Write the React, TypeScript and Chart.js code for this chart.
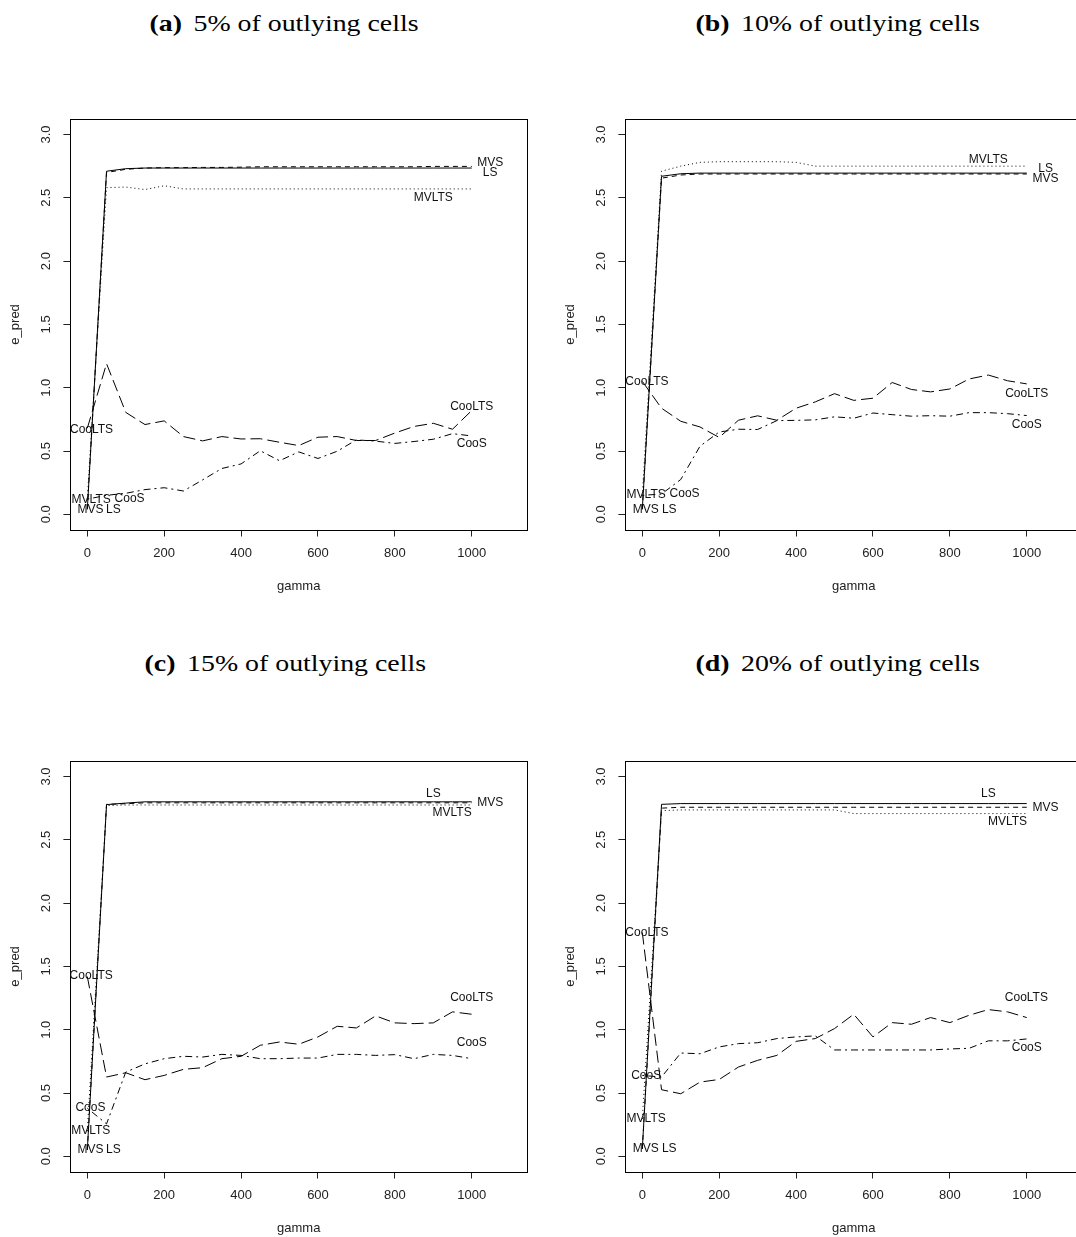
import React, { useEffect, useRef } from "react";
import { Chart, registerables } from "chart.js";

Chart.register(...registerables);

// ---------- data ----------
const GAMMA = [0, 50, 100, 150, 200, 250, 300, 350, 400, 450, 500, 550, 600, 650, 700, 750, 800, 850, 900, 950, 1000];
const X_TICKS = [0, 200, 400, 600, 800, 1000];
const Y_TICKS = [0, 0.5, 1, 1.5, 2, 2.5, 3];
const X_LIMITS = [-44, 1144];
const Y_LIMITS = [-0.12, 3.12];

// (a) 5%
const A_LS = [0.04, 2.71, 2.73, 2.735, 2.735, 2.735, 2.735, 2.735, 2.735, 2.735, 2.735, 2.735, 2.735, 2.735, 2.735, 2.735, 2.735, 2.735, 2.735, 2.735, 2.735];
const A_MVS = [0.04, 2.70, 2.725, 2.735, 2.738, 2.738, 2.74, 2.74, 2.742, 2.745, 2.745, 2.745, 2.745, 2.745, 2.745, 2.745, 2.745, 2.745, 2.748, 2.748, 2.748];
const A_MVLTS = [0.12, 2.58, 2.585, 2.565, 2.595, 2.57, 2.57, 2.57, 2.57, 2.57, 2.57, 2.57, 2.57, 2.57, 2.57, 2.57, 2.57, 2.57, 2.57, 2.57, 2.57];
const A_COOLTS = [0.68, 1.19, 0.805, 0.709, 0.738, 0.614, 0.58, 0.614, 0.595, 0.597, 0.569, 0.543, 0.609, 0.614, 0.583, 0.583, 0.642, 0.694, 0.719, 0.672, 0.82];
const A_COOS = [0.12, 0.15, 0.166, 0.195, 0.21, 0.184, 0.272, 0.362, 0.398, 0.502, 0.423, 0.493, 0.441, 0.498, 0.588, 0.578, 0.56, 0.575, 0.593, 0.637, 0.619];
const A_LABELS: [string, number, number][] = [
  ["MVS", 1048, 2.78], ["LS", 1048, 2.70], ["MVLTS", 900, 2.50], ["CooLTS", 1000, 0.853], ["CooS", 1000, 0.555],
  ["CooLTS", 11, 0.668], ["MVLTS", 10, 0.119], ["CooS", 110, 0.124], ["MVS", 8, 0.04], ["LS", 68, 0.04],
];

// (b) 10%
const B_LS = [0.04, 2.67, 2.69, 2.695, 2.695, 2.695, 2.695, 2.695, 2.695, 2.695, 2.695, 2.695, 2.695, 2.695, 2.695, 2.695, 2.695, 2.695, 2.695, 2.695, 2.695];
const B_MVS = [0.04, 2.655, 2.68, 2.688, 2.688, 2.688, 2.688, 2.688, 2.688, 2.688, 2.688, 2.688, 2.688, 2.688, 2.688, 2.688, 2.688, 2.688, 2.688, 2.688, 2.688];
const B_MVLTS = [0.15, 2.71, 2.75, 2.78, 2.785, 2.785, 2.785, 2.785, 2.78, 2.75, 2.75, 2.75, 2.75, 2.75, 2.75, 2.75, 2.75, 2.75, 2.75, 2.75, 2.75];
const B_COOLTS = [1.05, 0.838, 0.735, 0.69, 0.607, 0.743, 0.778, 0.743, 0.838, 0.888, 0.953, 0.9, 0.917, 1.041, 0.986, 0.967, 0.99, 1.069, 1.10, 1.055, 1.03];
const B_COOS = [0.15, 0.16, 0.275, 0.538, 0.65, 0.672, 0.67, 0.74, 0.742, 0.746, 0.77, 0.759, 0.8, 0.787, 0.775, 0.779, 0.775, 0.803, 0.803, 0.795, 0.78];
const B_LABELS: [string, number, number][] = [
  ["MVLTS", 900, 2.80], ["LS", 1049, 2.733], ["MVS", 1049, 2.649], ["CooLTS", 1000, 0.951], ["CooS", 1000, 0.708],
  ["CooLTS", 12, 1.046], ["MVLTS", 10, 0.153], ["CooS", 110, 0.166], ["MVS", 9, 0.04], ["LS", 70, 0.04],
];

// (c) 15%
const C_LS = [0.05, 2.778, 2.79, 2.80, 2.80, 2.80, 2.80, 2.80, 2.80, 2.80, 2.80, 2.80, 2.80, 2.80, 2.80, 2.80, 2.80, 2.80, 2.80, 2.80, 2.80];
const C_MVS = [0.05, 2.78, 2.785, 2.792, 2.792, 2.792, 2.792, 2.792, 2.792, 2.792, 2.792, 2.792, 2.792, 2.792, 2.792, 2.792, 2.792, 2.792, 2.792, 2.792, 2.792];
const C_MVLTS = [0.20, 2.77, 2.775, 2.775, 2.775, 2.775, 2.775, 2.775, 2.775, 2.775, 2.775, 2.775, 2.775, 2.775, 2.775, 2.775, 2.775, 2.775, 2.775, 2.775, 2.775];
const C_COOLTS = [1.42, 0.626, 0.66, 0.605, 0.639, 0.687, 0.70, 0.771, 0.79, 0.877, 0.903, 0.885, 0.943, 1.027, 1.014, 1.109, 1.054, 1.048, 1.054, 1.141, 1.122];
const C_COOS = [0.38, 0.256, 0.665, 0.73, 0.771, 0.79, 0.784, 0.805, 0.797, 0.771, 0.771, 0.776, 0.776, 0.805, 0.805, 0.797, 0.803, 0.771, 0.805, 0.797, 0.771];
const C_LABELS: [string, number, number][] = [
  ["LS", 900, 2.863], ["MVS", 1048, 2.797], ["MVLTS", 949, 2.717], ["CooLTS", 1000, 1.252], ["CooS", 1000, 0.895],
  ["CooLTS", 10, 1.423], ["CooS", 8, 0.383], ["MVLTS", 9, 0.203], ["MVS", 8, 0.05], ["LS", 68, 0.05],
];

// (d) 20%
const D_LS = [0.058, 2.78, 2.786, 2.786, 2.786, 2.786, 2.786, 2.786, 2.786, 2.786, 2.786, 2.786, 2.786, 2.786, 2.786, 2.786, 2.786, 2.786, 2.786, 2.786, 2.786];
const D_MVS = [0.058, 2.75, 2.757, 2.757, 2.757, 2.757, 2.757, 2.757, 2.757, 2.757, 2.757, 2.757, 2.757, 2.757, 2.757, 2.757, 2.757, 2.757, 2.757, 2.757, 2.757];
const D_MVLTS = [0.296, 2.73, 2.736, 2.736, 2.736, 2.736, 2.736, 2.736, 2.736, 2.736, 2.736, 2.707, 2.707, 2.707, 2.707, 2.707, 2.707, 2.707, 2.707, 2.707, 2.707];
const D_COOLTS = [1.767, 0.526, 0.494, 0.586, 0.607, 0.705, 0.758, 0.797, 0.908, 0.93, 1.009, 1.122, 0.943, 1.056, 1.043, 1.096, 1.056, 1.114, 1.159, 1.141, 1.096];
const D_COOS = [0.639, 0.626, 0.816, 0.81, 0.864, 0.89, 0.897, 0.93, 0.943, 0.951, 0.84, 0.84, 0.84, 0.84, 0.84, 0.84, 0.848, 0.853, 0.912, 0.912, 0.927];
const D_LABELS: [string, number, number][] = [
  ["LS", 900, 2.863], ["MVS", 1049, 2.757], ["MVLTS", 950, 2.646], ["CooLTS", 999, 1.252], ["CooS", 1000, 0.856],
  ["CooLTS", 12, 1.767], ["CooS", 10, 0.639], ["MVLTS", 10, 0.296], ["MVS", 9, 0.058], ["LS", 70, 0.058],
];

const TAGS = ["(a)", "(b)", "(c)", "(d)"];
const TITLES = ["5% of outlying cells", "10% of outlying cells", "15% of outlying cells", "20% of outlying cells"];
const X_TITLE = "gamma";
const Y_TITLE = "e_pred";

// ---------- styles / layout ----------
const SERIES_STYLE = [
  { name: "LS", dash: [] as number[] },
  { name: "MVS", dash: [5, 4] },
  { name: "MVLTS", dash: [1, 3] },
  { name: "CooLTS", dash: [12, 5] },
  { name: "CooS", dash: [2, 4, 7, 4] },
];

const CANVAS_W = 540;
const CANVAS_H = 520;
const PANEL_POS = [
  { left: 0, top: 90, titleCx: 284, titleTop: 10.6 },
  { left: 554.7, top: 90, titleCx: 837.5, titleTop: 10.6 },
  { left: 0, top: 731.5, titleCx: 285, titleTop: 650.6 },
  { left: 554.7, top: 731.5, titleCx: 838, titleTop: 650.6 },
];

const PANEL_DATA = [
  { series: [A_LS, A_MVS, A_MVLTS, A_COOLTS, A_COOS], labels: A_LABELS },
  { series: [B_LS, B_MVS, B_MVLTS, B_COOLTS, B_COOS], labels: B_LABELS },
  { series: [C_LS, C_MVS, C_MVLTS, C_COOLTS, C_COOS], labels: C_LABELS },
  { series: [D_LS, D_MVS, D_MVLTS, D_COOLTS, D_COOS], labels: D_LABELS },
];

const SANS = '"Liberation Sans", Arial, sans-serif';

const boxLabelPlugin = {
  id: "rbox",
  afterDatasetsDraw(chart: any, _args: any, opts: any) {
    const { ctx, chartArea, scales } = chart;
    const xs = scales.x;
    const ys = scales.y;
    ctx.save();
    ctx.strokeStyle = "#000";
    ctx.lineWidth = 1;
    const l = Math.round(chartArea.left) + 0.5;
    const t = Math.round(chartArea.top) + 0.5;
    const r = Math.round(chartArea.right) + 0.5;
    const b = Math.round(chartArea.bottom) + 0.5;
    ctx.strokeRect(l, t, r - l, b - t);
    ctx.fillStyle = "#111";
    ctx.font = `12px ${SANS}`;
    ctx.textAlign = "center";
    ctx.textBaseline = "middle";
    for (const [txt, gx, gy] of opts.items as [string, number, number][]) {
      ctx.fillText(txt, xs.getPixelForValue(gx), ys.getPixelForValue(gy));
    }
    ctx.restore();
  },
};

function Panel({ idx }: { idx: number }) {
  const ref = useRef<HTMLCanvasElement>(null);
  useEffect(() => {
    const pd = PANEL_DATA[idx];
    const chart = new Chart(ref.current as HTMLCanvasElement, {
      type: "line",
      data: {
        datasets: pd.series.map((vals, si) => ({
          label: SERIES_STYLE[si].name,
          data: GAMMA.map((g, i) => ({ x: g, y: vals[i] })),
          borderColor: "#000",
          borderWidth: 1,
          borderDash: SERIES_STYLE[si].dash,
          pointRadius: 0,
          tension: 0,
          fill: false,
        })),
      },
      options: {
        animation: false,
        responsive: false,
        devicePixelRatio: 1,
        events: [],
        layout: { padding: { left: 0, right: 12.9, top: 29.3, bottom: 0 } },
        plugins: {
          legend: { display: false },
          tooltip: { enabled: false },
          rbox: { items: pd.labels },
        } as any,
        scales: {
          x: {
            type: "linear",
            min: X_LIMITS[0],
            max: X_LIMITS[1],
            afterBuildTicks: (s: any) => { s.ticks = X_TICKS.map((v) => ({ value: v })); },
            afterFit: (s: any) => { s.height = 80.5; },
            border: { display: false },
            grid: { drawOnChartArea: false, drawTicks: true, tickLength: 7, color: "#222", lineWidth: 1 },
            ticks: {
              autoSkip: false, maxRotation: 0, minRotation: 0, padding: 9,
              color: "#222", font: { family: SANS, size: 13 },
              callback: (v: any) => String(v),
            },
            title: {
              display: true, text: X_TITLE, color: "#222",
              font: { family: SANS, size: 13 }, padding: { top: 0, bottom: 16.2 },
            },
          },
          y: {
            type: "linear",
            min: Y_LIMITS[0],
            max: Y_LIMITS[1],
            afterBuildTicks: (s: any) => { s.ticks = Y_TICKS.map((v) => ({ value: v })); },
            afterFit: (s: any) => { s.width = 70.4; },
            border: { display: false },
            grid: { drawOnChartArea: false, drawTicks: true, tickLength: 7, color: "#222", lineWidth: 1 },
            ticks: {
              autoSkip: false, minRotation: 90, maxRotation: 90, crossAlign: "center", padding: 7.7,
              color: "#222", font: { family: SANS, size: 13 },
              callback: (v: any) => Number(v).toFixed(1),
            },
            title: {
              display: true, text: Y_TITLE, color: "#222",
              font: { family: SANS, size: 13 }, padding: { top: 7.7, bottom: 0 },
            },
          },
        },
      } as any,
      plugins: [boxLabelPlugin],
    });
    return () => chart.destroy();
  }, [idx]);
  const pos = PANEL_POS[idx];
  return (
    <>
      <canvas
        ref={ref}
        width={CANVAS_W}
        height={CANVAS_H}
        style={{ position: "absolute", left: pos.left, top: pos.top, width: CANVAS_W, height: CANVAS_H }}
      />
      <div
        style={{
          position: "absolute", left: pos.titleCx - 300, top: pos.titleTop, width: 600,
          textAlign: "center", fontFamily: '"Liberation Serif", "Times New Roman", serif',
          fontSize: 24, lineHeight: "24px", whiteSpace: "nowrap", color: "#000",
        }}
      >
        <span style={{ display: "inline-block", transform: "scaleX(1.16)" }}>
          <b style={{ marginRight: 4 }}>{TAGS[idx]}</b> {TITLES[idx]}
        </span>
      </div>
    </>
  );
}

export default function App() {
  return (
    <div style={{ position: "absolute", left: 0, top: 0, width: 1076, height: 1237, overflow: "hidden", background: "#fff" }}>
      {[0, 1, 2, 3].map((i) => <Panel key={i} idx={i} />)}
    </div>
  );
}
